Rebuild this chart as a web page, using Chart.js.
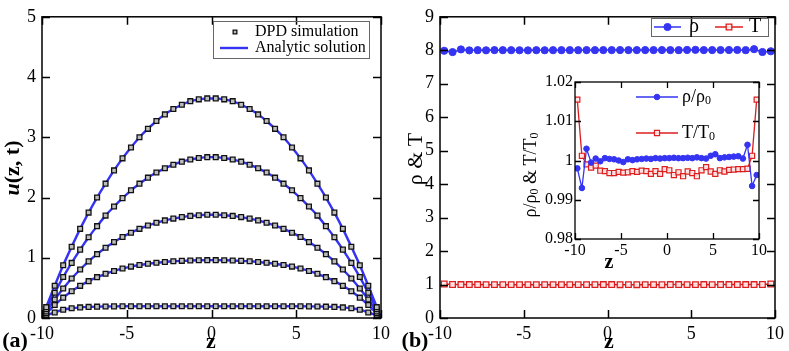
<!DOCTYPE html>
<html>
<head>
<meta charset="utf-8">
<script src="https://cdn.jsdelivr.net/npm/chart.js@4.4.1/dist/chart.umd.min.js"></script>
<style>
  html, body { margin: 0; padding: 0; background: #fff; }
  #wrap { position: relative; width: 789px; height: 351px; overflow: hidden; }
  #wrap canvas { position: absolute; left: 0; top: 0; }
</style>
</head>
<body>
<div id="wrap">
  <canvas id="chart-a" width="789" height="351"></canvas>
  <canvas id="chart-b" width="789" height="351"></canvas>
  <canvas id="chart-in" width="789" height="351"></canvas>
</div>
<script>
/* ── Data ── */
const zBins = [-9.75, -9.25, -8.75, -8.25, -7.75, -7.25, -6.75, -6.25, -5.75, -5.25,
               -4.75, -4.25, -3.75, -3.25, -2.75, -2.25, -1.75, -1.25, -0.75, -0.25,
                0.25,  0.75,  1.25,  1.75,  2.25,  2.75,  3.25,  3.75,  4.25,  4.75,
                5.25,  5.75,  6.25,  6.75,  7.25,  7.75,  8.25,  8.75,  9.25,  9.75];
const zWalls = [-10, 10];

// panel (a): velocity profiles u(z,t), five times
const uT1 = [0.18, 0.535, 0.875, 1.183, 1.48, 1.75, 2.00, 2.23, 2.45, 2.65,
             2.83, 3.00, 3.14, 3.27, 3.38, 3.47, 3.54, 3.60, 3.63, 3.645,
             3.645, 3.63, 3.60, 3.54, 3.47, 3.38, 3.27, 3.14, 3.00, 2.83,
             2.65, 2.45, 2.23, 2.00, 1.75, 1.48, 1.183, 0.875, 0.535, 0.18];
const uT2 = [0.145, 0.42, 0.68, 0.915, 1.135, 1.34, 1.525, 1.70, 1.85, 1.99,
             2.12, 2.23, 2.33, 2.415, 2.485, 2.545, 2.595, 2.63, 2.655, 2.67,
             2.67, 2.655, 2.63, 2.595, 2.545, 2.485, 2.415, 2.33, 2.23, 2.12,
             1.99, 1.85, 1.70, 1.525, 1.34, 1.135, 0.915, 0.68, 0.42, 0.145];
const uT3 = [0.108, 0.308, 0.49, 0.655, 0.805, 0.94, 1.06, 1.165, 1.26, 1.345,
             1.415, 1.48, 1.535, 1.58, 1.62, 1.65, 1.675, 1.695, 1.705, 1.715,
             1.715, 1.705, 1.695, 1.675, 1.65, 1.62, 1.58, 1.535, 1.48, 1.415,
             1.345, 1.26, 1.165, 1.06, 0.94, 0.805, 0.655, 0.49, 0.308, 0.108];
const uT4 = [0.077, 0.215, 0.338, 0.444, 0.534, 0.612, 0.678, 0.734, 0.781, 0.821,
             0.853, 0.879, 0.900, 0.917, 0.930, 0.941, 0.949, 0.955, 0.958, 0.96,
             0.96, 0.958, 0.955, 0.949, 0.941, 0.930, 0.917, 0.900, 0.879, 0.853,
             0.821, 0.781, 0.734, 0.678, 0.612, 0.534, 0.444, 0.338, 0.215, 0.077];
const uT5 = [0.04, 0.092, 0.138, 0.162, 0.176, 0.184, 0.188, 0.191, 0.193, 0.194,
             0.194, 0.194, 0.194, 0.194, 0.194, 0.194, 0.194, 0.194, 0.194, 0.194,
             0.194, 0.194, 0.194, 0.194, 0.194, 0.194, 0.194, 0.194, 0.194, 0.194,
             0.194, 0.193, 0.191, 0.188, 0.184, 0.176, 0.162, 0.138, 0.092, 0.04];
const uWall = [0, 0];

// panel (b): density and temperature
const rhoVals = [7.985, 7.945, 8.025, 7.997, 8.004, 7.999, 8.005, 8.003, 8.002, 8.000,
                 7.997, 8.002, 8.001, 8.002, 8.003, 8.004, 8.003, 8.005, 8.004, 8.005,
                 8.005, 8.006, 8.005, 8.005, 8.006, 8.005, 8.006, 8.005, 8.004, 8.010,
                 8.013, 8.005, 8.006, 8.007, 8.008, 8.009, 8.004, 8.032, 7.948, 7.970];
const tempVals = [1.015, 1.001, 0.999, 0.998, 0.999, 0.997, 0.997, 0.997, 0.997, 0.997,
                  0.997, 0.997, 0.997, 0.997, 0.997, 0.997, 0.997, 0.997, 0.997, 0.998,
                  0.998, 0.996, 0.997, 0.996, 0.997, 0.997, 0.996, 0.998, 0.998, 0.997,
                  0.997, 0.998, 0.997, 0.998, 0.998, 0.998, 0.998, 0.998, 1.001, 1.015];

// inset: normalised values
const rhoRatio = [0.998, 0.993, 1.003, 0.9995, 1.0005, 0.9998, 1.0006, 1.0004, 1.0003, 1.0000,
                  0.9996, 1.0003, 1.0001, 1.0003, 1.0004, 1.0005, 1.0004, 1.0006, 1.0005, 1.0006,
                  1.0006, 1.0007, 1.0006, 1.0006, 1.0007, 1.0006, 1.0008, 1.0006, 1.0005, 1.0012,
                  1.0016, 1.0006, 1.0008, 1.0009, 1.0010, 1.0011, 1.0005, 1.0040, 0.9935, 0.9963];
const tempRatio = [1.0155, 1.0012, 0.9990, 0.9982, 0.9987, 0.9974, 0.9973, 0.9968, 0.9968, 0.9971,
                   0.9969, 0.9970, 0.9973, 0.9971, 0.9974, 0.9973, 0.9966, 0.9973, 0.9966, 0.9978,
                   0.9975, 0.9963, 0.9970, 0.9960, 0.9972, 0.9968, 0.9960, 0.9975, 0.9983, 0.9972,
                   0.9966, 0.9975, 0.9972, 0.9976, 0.9977, 0.9978, 0.9978, 0.9979, 1.0012, 1.0155];

/* ── Styles ── */
const SERIF = "'Liberation Serif', 'Times New Roman', serif";
const BLUE  = '#3434f2';
const RED   = '#dc1e1e';

Chart.defaults.font.family = SERIF;
Chart.defaults.color = '#000';
Chart.defaults.animation = false;

function pts(xs, ys) { return xs.map((x, i) => ({ x, y: ys[i] })); }
function withWalls(ys) {
  return [{ x: zWalls[0], y: uWall[0] }, ...pts(zBins, ys), { x: zWalls[1], y: uWall[1] }];
}

/* draw text made of parts (for italics / subscripts) */
function drawParts(ctx, parts, x, y, align) {
  let w = 0;
  parts.forEach(p => { ctx.font = p.font; w += ctx.measureText(p.t).width; });
  let cx = align === 'center' ? x - w / 2 : x;
  parts.forEach(p => {
    ctx.font = p.font;
    ctx.fillText(p.t, cx, y + (p.dy || 0));
    cx += ctx.measureText(p.t).width;
  });
}

/* ── Plugins ── */
const framePlugin = {
  id: 'frame',
  afterDatasetsDraw(chart, args, o) {
    const { ctx, chartArea: a, scales } = chart;
    const L = o.len || 8;
    ctx.save();
    ctx.strokeStyle = '#000';
    ctx.lineWidth = o.lw || 1.5;
    ctx.beginPath();
    scales.x.ticks.forEach(t => {
      const px = Math.round(scales.x.getPixelForValue(t.value)) + 0.5;
      ctx.moveTo(px, a.bottom); ctx.lineTo(px, a.bottom - L);
      ctx.moveTo(px, a.top);    ctx.lineTo(px, a.top + L);
    });
    scales.y.ticks.forEach(t => {
      const py = Math.round(scales.y.getPixelForValue(t.value)) + 0.5;
      ctx.moveTo(a.left, py);  ctx.lineTo(a.left + L, py);
      ctx.moveTo(a.right, py); ctx.lineTo(a.right - L, py);
    });
    ctx.stroke();
    ctx.lineWidth = o.lw || 1.5;
    ctx.strokeRect(a.left, a.top, a.right - a.left, a.bottom - a.top);
    ctx.restore();
  }
};

const textPlugin = {
  id: 'texts',
  afterDraw(chart, args, o) {
    if (!o.items) return;
    const ctx = chart.ctx;
    ctx.save();
    ctx.fillStyle = '#000';
    ctx.textBaseline = 'middle';
    o.items.forEach(it => {
      ctx.save();
      ctx.translate(it.x, it.y);
      if (it.rot) ctx.rotate(it.rot);
      drawParts(ctx, it.parts, 0, 0, it.align || 'center');
      ctx.restore();
    });
    ctx.restore();
  }
};

const legendPlugin = {
  id: 'boxLegend',
  afterDraw(chart, args, o) {
    if (!o.items) return;
    const ctx = chart.ctx;
    ctx.save();
    if (o.box) {
      ctx.strokeStyle = '#666';
      ctx.lineWidth = 1;
      ctx.strokeRect(o.box[0] + 0.5, o.box[1] + 0.5, o.box[2], o.box[3]);
    }
    ctx.textBaseline = 'middle';
    o.items.forEach(it => {
      if (it.line != null) {
        const ds = chart.data.datasets[it.line];
        ctx.strokeStyle = ds.borderColor;
        ctx.lineWidth = ds.borderWidth;
        ctx.beginPath();
        ctx.moveTo(it.x1, it.y); ctx.lineTo(it.x2, it.y);
        ctx.stroke();
      }
      if (it.mark != null) {
        const ds = chart.data.datasets[it.mark];
        ctx.fillStyle = ds.pointBackgroundColor;
        ctx.strokeStyle = ds.pointBorderColor;
        ctx.lineWidth = ds.pointBorderWidth;
        Chart.helpers.drawPoint(ctx, {
          pointStyle: ds.pointStyle, radius: it.r || ds.pointRadius,
          borderWidth: ds.pointBorderWidth, rotation: 0
        }, (it.x1 + it.x2) / 2, it.y);
      }
      ctx.fillStyle = '#000';
      drawParts(ctx, it.parts, it.tx, it.y, 'left');
    });
    ctx.restore();
  }
};

Chart.register(framePlugin, textPlugin, legendPlugin);

function axes(xMin, xMax, xStep, yMin, yMax, yStep, yw, xh, fs, ypad, xpad) {
  const tf = { family: SERIF, size: fs, weight: 'normal' };
  return {
    x: {
      type: 'linear', min: xMin, max: xMax,
      grid: { display: false, drawTicks: false }, border: { display: false },
      ticks: { stepSize: xStep, padding: xpad, font: tf, color: '#000', maxRotation: 0, autoSkip: false,
               callback: v => String(v) },
      afterFit: s => { s.height = xh; }
    },
    y: {
      type: 'linear', min: yMin, max: yMax,
      grid: { display: false, drawTicks: false }, border: { display: false },
      ticks: { stepSize: yStep, padding: ypad, font: tf, color: '#000', autoSkip: false,
               callback: v => String(v) },
      afterFit: s => { s.width = yw; }
    }
  };
}

const bold22 = 'bold 22px ' + SERIF;

/* ── Panel (a) ── */
const profiles = [uT1, uT2, uT3, uT4, uT5];
const dsA = [];
profiles.forEach(u => dsA.push({
  data: pts(zBins, u), showLine: false, order: 0,
  pointStyle: 'rect', pointRadius: 3.4, pointBorderWidth: 1.3,
  pointBorderColor: '#111', pointBackgroundColor: '#bdbdbd'
}));
profiles.forEach(u => dsA.push({
  data: withWalls(u), showLine: true, order: 1,
  borderColor: BLUE, borderWidth: 2.4, pointRadius: 0,
  cubicInterpolationMode: 'monotone'
}));

new Chart(document.getElementById('chart-a'), {
  type: 'scatter',
  data: { datasets: dsA },
  options: {
    responsive: false,
    layout: { padding: { left: 0, right: 408, top: 9, bottom: 0 } },
    scales: axes(-10, 10, 5, 0, 5, 1, 42, 33, 18, 6, 5),
    plugins: {
      legend: { display: false }, tooltip: { enabled: false },
      frame: { len: 8, lw: 1.5 },
      texts: { items: [
        { x: 13, y: 168, rot: -Math.PI / 2, parts: [
          { t: 'u', font: 'italic bold 22px ' + SERIF },
          { t: '(z, t)', font: bold22 }] },
        { x: 211, y: 342, parts: [{ t: 'z', font: bold22 }] },
        { x: 15, y: 341, parts: [{ t: '(a)', font: bold22 }] }
      ] },
      boxLegend: {
        box: [213, 21, 156, 37],
        items: [
          { mark: 0, r: 2.6, x1: 225, x2: 245, y: 32, tx: 255, parts: [{ t: 'DPD simulation', font: '16px ' + SERIF }] },
          { line: 5, x1: 220, x2: 248, y: 48, tx: 255, parts: [{ t: 'Analytic solution', font: '16px ' + SERIF }] }
        ]
      }
    }
  }
});

/* ── Panel (b) ── */
new Chart(document.getElementById('chart-b'), {
  type: 'scatter',
  data: { datasets: [
    { data: pts(zBins, rhoVals), showLine: true, borderColor: BLUE, borderWidth: 1.5,
      pointStyle: 'circle', pointRadius: 3.6, pointBorderWidth: 1,
      pointBorderColor: BLUE, pointBackgroundColor: BLUE },
    { data: pts(zBins, tempVals), showLine: true, borderColor: RED, borderWidth: 1.5,
      pointStyle: 'rect', pointRadius: 4.0, pointBorderWidth: 1.3,
      pointBorderColor: RED, pointBackgroundColor: 'rgba(255,235,235,0.9)' }
  ] },
  options: {
    responsive: false,
    layout: { padding: { left: 395, right: 12, top: 9, bottom: 0 } },
    scales: axes(-10, 10, 5, 0, 9, 1, 45, 33, 18, 6, 5),
    plugins: {
      legend: { display: false }, tooltip: { enabled: false },
      frame: { len: 8, lw: 1.5 },
      texts: { items: [
        { x: 416, y: 159, rot: -Math.PI / 2, parts: [{ t: 'ρ & T', font: '22px ' + SERIF }] },
        { x: 609, y: 342, parts: [{ t: 'z', font: bold22 }] },
        { x: 415, y: 341, parts: [{ t: '(b)', font: bold22 }] }
      ] },
      boxLegend: {
        box: [651, 18, 117, 18],
        items: [
          { line: 0, mark: 0, x1: 654, x2: 681, y: 27, tx: 689, parts: [{ t: 'ρ', font: '20px ' + SERIF }] },
          { line: 1, mark: 1, x1: 715, x2: 743, y: 27, tx: 749, parts: [{ t: 'T', font: '20px ' + SERIF }] }
        ]
      }
    }
  }
});

/* ── Inset ── */
const f18 = '18px ' + SERIF, f12 = '12px ' + SERIF;
new Chart(document.getElementById('chart-in'), {
  type: 'scatter',
  data: { datasets: [
    { data: pts(zBins, rhoRatio), showLine: true, borderColor: BLUE, borderWidth: 1.3,
      pointStyle: 'circle', pointRadius: 2.8, pointBorderWidth: 1,
      pointBorderColor: BLUE, pointBackgroundColor: BLUE },
    { data: pts(zBins, tempRatio), showLine: true, borderColor: RED, borderWidth: 1.3,
      pointStyle: 'rect', pointRadius: 3.6, pointBorderWidth: 1.2,
      pointBorderColor: RED, pointBackgroundColor: 'rgba(255,235,235,0.9)' }
  ] },
  options: {
    responsive: false,
    layout: { padding: { left: 500, right: 30, top: 82, bottom: 76 } },
    scales: axes(-10, 10, 5, 0.98, 1.02, 0.01, 75, 36, 16, 2, 2),
    plugins: {
      legend: { display: false }, tooltip: { enabled: false },
      frame: { len: 6, lw: 1.3 },
      texts: { items: [
        { x: 531, y: 175, rot: -Math.PI / 2, parts: [
          { t: 'ρ/ρ', font: f18 }, { t: '0', font: f12, dy: 4 },
          { t: ' & T/T', font: f18 }, { t: '0', font: f12, dy: 4 }] },
        { x: 609, y: 263, parts: [{ t: 'z', font: 'bold 20px ' + SERIF }] }
      ] },
      boxLegend: {
        items: [
          { line: 0, mark: 0, x1: 636, x2: 678, y: 97, tx: 682, parts: [
            { t: 'ρ/ρ', font: f18 }, { t: '0', font: f12, dy: 4 }] },
          { line: 1, mark: 1, x1: 636, x2: 678, y: 133, tx: 682, parts: [
            { t: 'T/T', font: f18 }, { t: '0', font: f12, dy: 4 }] }
        ]
      }
    }
  }
});
</script>
</body>
</html>
